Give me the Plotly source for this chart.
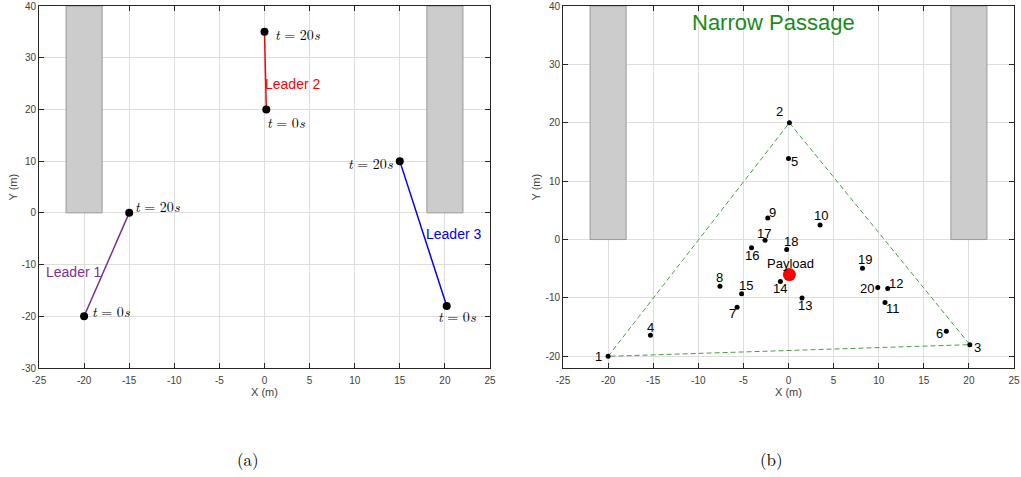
import plotly.graph_objects as go

# ---- data -------------------------------------------------------------
# Leader trajectories (start at t = 0 s, end at t = 20 s)
leader_names = ["Leader 1", "Leader 2", "Leader 3"]
leader_x0 = [-20, 0.2, 20.2]
leader_y0 = [-20, 20, -18]
leader_x1 = [-15, 0, 15]
leader_y1 = [0, 35, 10]
leader_colors = ["#7E2F8E", "#FF0000", "#0000FF"]

# Obstacles forming the narrow passage
obstacle_x0 = [-22, 18]
obstacle_x1 = [-18, 22]
obstacle_y0 = [0, 0]
obstacle_y1 = [40, 40]

# Agent positions in the formation
agent_ids = [str(i) for i in range(1, 21)]
agent_x = [-20, 0.1, 20.1, -15.3, 0.0, 17.5, -5.7, -7.6, -2.3, 3.5,
           10.7, 11.0, 1.5, -0.9, -5.2, -4.1, -2.6, -0.2, 8.2, 9.9]
agent_y = [-20, 20, -18, -16.4, 13.9, -15.7, -11.6, -8.0, 3.7, 2.5,
           -10.8, -8.4, -10.0, -7.2, -9.3, -1.4, -0.1, -1.7, -4.9, -8.2]
payload_x = [0.1]
payload_y = [-6.0]

# label offsets (pixels) for the agent numbers
label_dx = [-10, -10, 8, 0, 6, -7, -5, 0, 5, 1, 8, 8, 3, 0, 4, 0, -1, 4, 3, -11]
label_dy = [0, 11, -3, 8, -3, -2, -6, 9, 5, 9, -6, 5, -8, -7, 8, -8, 7, 8, 9, -1]

x_ticks = [-25, -20, -15, -10, -5, 0, 5, 10, 15, 20, 25]
y_ticks_a = [-30, -20, -10, 0, 10, 20, 30, 40]
y_ticks_b = [-20, -10, 0, 10, 20, 30, 40]

# ---- figure -----------------------------------------------------------
fig = go.Figure()
SANS = "Liberation Sans, Arial, sans-serif"
SERIF = "Latin Modern Roman, DejaVu Serif, Liberation Serif, serif"
TXT = "#404040"

# panel (a): leader trajectories
for i in range(3):
    fig.add_trace(go.Scatter(
        x=[leader_x0[i], leader_x1[i]], y=[leader_y0[i], leader_y1[i]],
        mode="lines", line=dict(color=leader_colors[i], width=1.5),
        xaxis="x", yaxis="y", showlegend=False, hoverinfo="skip"))
fig.add_trace(go.Scatter(
    x=leader_x0 + leader_x1, y=leader_y0 + leader_y1, mode="markers",
    marker=dict(color="black", size=8), xaxis="x", yaxis="y",
    showlegend=False))

# panel (b): formation triangle, agents and payload
tri = [0, 1, 2, 0]
fig.add_trace(go.Scatter(
    x=[agent_x[k] for k in tri], y=[agent_y[k] for k in tri], mode="lines",
    line=dict(color="#44A044", width=1, dash="5px,3px"),
    xaxis="x2", yaxis="y2", showlegend=False, hoverinfo="skip"))
fig.add_trace(go.Scatter(
    x=agent_x, y=agent_y, mode="markers", marker=dict(color="black", size=5),
    xaxis="x2", yaxis="y2", showlegend=False))
fig.add_trace(go.Scatter(
    x=payload_x, y=payload_y, mode="markers",
    marker=dict(color="#FF0000", size=13), xaxis="x2", yaxis="y2",
    showlegend=False))

shapes = []
for xr, yr in (("x", "y"), ("x2", "y2")):
    for j in range(len(obstacle_x0)):
        shapes.append(dict(type="rect", xref=xr, yref=yr,
                           x0=obstacle_x0[j], x1=obstacle_x1[j],
                           y0=obstacle_y0[j], y1=obstacle_y1[j],
                           fillcolor="#CCCCCC",
                           line=dict(color="#9A9A9A", width=1), layer="above"))

annotations = []
def t_label(x, y, txt, xanchor, dx, dy):
    annotations.append(dict(
        x=x, y=y, xref="x", yref="y", text=txt, showarrow=False,
        xanchor=xanchor, yanchor="middle", xshift=dx, yshift=dy,
        font=dict(family=SERIF, size=14, color="black")))

t20 = "<i>t</i> = 20<i>s</i>"
t0 = "<i>t</i> = 0<i>s</i>"
t_label(leader_x1[0], leader_y1[0], t20, "left", 4, 7)
t_label(leader_x0[0], leader_y0[0], t0, "left", 6, 5)
t_label(leader_x1[1], leader_y1[1], t20, "left", 8, -2)
t_label(leader_x0[1], leader_y0[1], t0, "left", -1, -13)
t_label(leader_x1[2], leader_y1[2], t20, "right", -5, -2)
t_label(leader_x0[2], leader_y0[2], t0, "left", -11, -10)

leader_label_pos = [(-21.2, -11.4), (3.1, 25.0), (21.0, -4.1)]
for i, (lx, ly) in enumerate(leader_label_pos):
    annotations.append(dict(
        x=lx, y=ly, xref="x", yref="y", text=leader_names[i], showarrow=False,
        xanchor="center", yanchor="middle",
        font=dict(family=SANS, size=14, color=leader_colors[i])))

for i, lbl in enumerate(agent_ids):
    annotations.append(dict(
        x=agent_x[i], y=agent_y[i], xref="x2", yref="y2", text=lbl,
        showarrow=False, xshift=label_dx[i], yshift=label_dy[i],
        xanchor="center", yanchor="middle",
        font=dict(family=SANS, size=13, color="black")))
annotations.append(dict(
    x=payload_x[0], y=payload_y[0], xref="x2", yref="y2", text="Payload",
    showarrow=False, xshift=1, yshift=11, xanchor="center", yanchor="middle",
    font=dict(family=SANS, size=13, color="black")))
annotations.append(dict(
    x=-1.7, y=37.1, xref="x2", yref="y2", text="Narrow Passage",
    showarrow=False, xanchor="center", yanchor="middle",
    font=dict(family=SANS, size=22, color="#1A8A1A")))

# axis titles
for xc in (264.5 / 1021, 788.5 / 1021):
    annotations.append(dict(x=xc, y=1 - 392 / 477, xref="paper", yref="paper",
                            text="X (m)", showarrow=False,
                            xanchor="center", yanchor="middle",
                            font=dict(family=SANS, size=11, color=TXT)))
for xc in (12.5 / 1021, 535.5 / 1021):
    annotations.append(dict(x=xc, y=1 - 187 / 477, xref="paper", yref="paper",
                            text="Y (m)", showarrow=False, textangle=-90,
                            xanchor="center", yanchor="middle",
                            font=dict(family=SANS, size=11, color=TXT)))

for xc, lbl in ((0.243, "(a)"), (0.756, "(b)")):
    annotations.append(dict(x=xc, y=1 - 459 / 477, xref="paper", yref="paper",
                            text=lbl, showarrow=False,
                            xanchor="center", yanchor="middle",
                            font=dict(family=SERIF, size=17, color="black")))

axis_common = dict(
    showline=True, linecolor="#262626", linewidth=1, mirror="ticks",
    ticks="inside", ticklen=5, tickcolor="#262626", automargin=False,
    showgrid=True, gridcolor="#DEDEDE", gridwidth=1, zeroline=False,
    ticklabeloverflow="allow",
    tickfont=dict(family=SANS, size=10, color=TXT))

def ticks(vals):
    return dict(tickmode="array", tickvals=vals, ticktext=[str(v) for v in vals])

dom_y = [1 - 368 / 477, 1 - 6 / 477]
fig.update_layout(
    template="none",
    width=1021, height=477, margin=dict(l=0, r=0, t=0, b=0),
    plot_bgcolor="white", paper_bgcolor="white",
    shapes=shapes, annotations=annotations,
    xaxis=dict(axis_common, domain=[39 / 1021, 490 / 1021], range=[-25, 25],
               ticklabelstandoff=3, anchor="y", **ticks(x_ticks)),
    yaxis=dict(axis_common, domain=dom_y, range=[-30, 40],
               anchor="x", **ticks(y_ticks_a)),
    xaxis2=dict(axis_common, domain=[563 / 1021, 1014 / 1021], range=[-25, 25],
                ticklabelstandoff=3, anchor="y2", **ticks(x_ticks)),
    yaxis2=dict(axis_common, domain=dom_y, range=[-22, 40],
                anchor="x2", **ticks(y_ticks_b)),
)

fig.write_html("out.html")
